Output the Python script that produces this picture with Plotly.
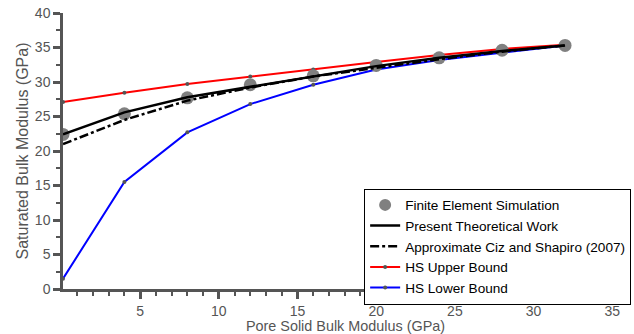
import plotly.graph_objects as go

x_vals = [0.1, 4, 8, 12, 16, 20, 24, 28, 32]
fe_sim = [22.4, 25.4, 27.7, 29.6, 30.9, 32.4, 33.5, 34.6, 35.3]
present = [22.4, 25.6, 27.8, 29.3, 30.9, 32.3, 33.5, 34.5, 35.3]
ciz_shapiro = [21.0, 24.5, 27.3, 29.2, 30.8, 32.1, 33.3, 34.4, 35.3]
hs_upper = [27.1, 28.45, 29.7, 30.8, 31.8, 32.9, 33.9, 34.8, 35.4]
hs_lower = [1.5, 15.5, 22.7, 26.8, 29.6, 31.8, 33.2, 34.3, 35.3]

x_title = "Pore Solid Bulk Modulus (GPa)"
y_title = "Saturated Bulk Modulus (GPa)"

axis_col = "#555555"
font_fam = "Liberation Sans, Arial, sans-serif"

fig = go.Figure()
fig.add_trace(go.Scatter(x=x_vals, y=hs_upper, mode="lines+markers", name="HS Upper Bound",
                         line=dict(color="#ff0000", width=2),
                         marker=dict(color="#555555", size=4), showlegend=False))
fig.add_trace(go.Scatter(x=x_vals, y=hs_lower, mode="lines+markers", name="HS Lower Bound",
                         line=dict(color="#0000ff", width=2),
                         marker=dict(color="#555555", size=4), showlegend=False))
fig.add_trace(go.Scatter(x=x_vals, y=fe_sim, mode="markers", name="Finite Element Simulation",
                         marker=dict(color="#808080", size=13), showlegend=False))
fig.add_trace(go.Scatter(x=x_vals, y=ciz_shapiro, mode="lines", name="Approximate Ciz and Shapiro (2007)",
                         line=dict(color="#000000", width=2.5, dash="dashdot"), showlegend=False))
fig.add_trace(go.Scatter(x=x_vals, y=present, mode="lines", name="Present Theoretical Work",
                         line=dict(color="#000000", width=2.5), showlegend=False))

# legend entries (ordered)
fig.add_trace(go.Scatter(x=[None], y=[None], mode="markers", name="Finite Element Simulation",
                         marker=dict(color="#808080", size=12)))
fig.add_trace(go.Scatter(x=[None], y=[None], mode="lines", name="Present Theoretical Work",
                         line=dict(color="#000000", width=2.5)))
fig.add_trace(go.Scatter(x=[None], y=[None], mode="lines", name="Approximate Ciz and Shapiro (2007)",
                         line=dict(color="#000000", width=2.5, dash="dashdot")))
fig.add_trace(go.Scatter(x=[None], y=[None], mode="lines+markers", name="HS Upper Bound",
                         line=dict(color="#ff0000", width=2), marker=dict(color="#555555", size=4)))
fig.add_trace(go.Scatter(x=[None], y=[None], mode="lines+markers", name="HS Lower Bound",
                         line=dict(color="#0000ff", width=2), marker=dict(color="#555555", size=4)))

fig.update_layout(
    width=634, height=334,
    margin=dict(l=63, r=6, t=13, b=45, autoexpand=False),
    paper_bgcolor="white", plot_bgcolor="white",
    font=dict(family=font_fam, size=14, color=axis_col),
    legend=dict(x=0.533, y=0.364, xanchor="left", yanchor="top",
                bordercolor="#000000", borderwidth=1, bgcolor="white",
                font=dict(size=13.6, color="#000000", family=font_fam),
                tracegroupgap=0, itemwidth=30),
    xaxis=dict(range=[0.1, 36], tick0=0, dtick=5, showgrid=False, zeroline=False,
               automargin=False,
               showline=True, linecolor=axis_col, linewidth=2.5,
               ticks="outside", ticklen=7, tickwidth=2.5, tickcolor=axis_col,
               minor=dict(dtick=1, tick0=0, ticks="outside", ticklen=4, tickwidth=2, tickcolor=axis_col),
               title=dict(text=x_title, font=dict(size=14.4, color=axis_col), standoff=0),
               tickfont=dict(size=14, color=axis_col)),
    yaxis=dict(range=[0, 40], tick0=0, dtick=5, showgrid=False, zeroline=False,
               automargin=False,
               showline=True, linecolor=axis_col, linewidth=2.5,
               ticks="outside", ticklen=7, tickwidth=2.5, tickcolor=axis_col,
               minor=dict(dtick=2.5, tick0=0, ticks="outside", ticklen=4, tickwidth=2, tickcolor=axis_col),
               title=dict(text=y_title, font=dict(size=16, color=axis_col), standoff=3),
               tickfont=dict(size=14, color=axis_col)),
)

fig.write_html("out.html", post_script="document.body.style.margin='0';",
               config={"displayModeBar": False})
